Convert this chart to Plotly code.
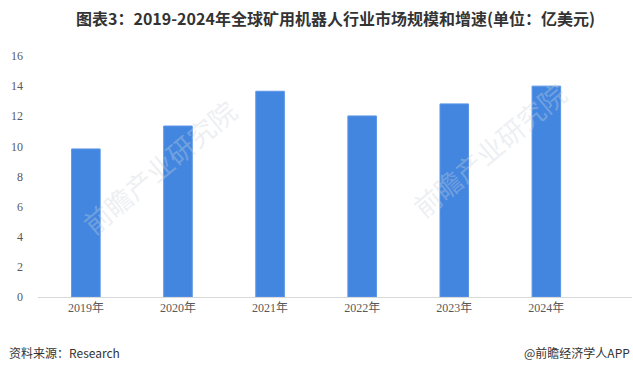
import plotly.graph_objects as go

years = ["2019年", "2020年", "2021年", "2022年", "2023年", "2024年"]
values = [9.83, 11.35, 13.66, 12.02, 12.82, 14.0]
y_ticks = [0, 2, 4, 6, 8, 10, 12, 14, 16]

title_text = "图表3：2019-2024年全球矿用机器人行业市场规模和增速(单位：亿美元)"
source_text = "资料来源：Research"
brand_text = "@前瞻经济学人APP"

fig = go.Figure()
fig.add_trace(go.Bar(
    x=years, y=values,
    marker=dict(color="#4286E0", line=dict(color="#5a95e6", width=1)),
    width=0.31,
))

W, H = 633, 373
left, right, top, bottom = 38, 1, 56, 76

fig.update_layout(
    width=W, height=H,
    margin=dict(l=left, r=right, t=top, b=bottom, pad=0),
    paper_bgcolor="white", plot_bgcolor="white",
    showlegend=False,
    font=dict(family="Liberation Serif, serif", color="#595959", size=12),
    xaxis=dict(
        type="category", range=[-0.52, 5.93],
        showline=True, linecolor="#d9d9d9", linewidth=1,
        showgrid=False, ticks="", tickfont=dict(size=12, color="#595959", family="Liberation Serif, Noto Sans CJK SC"),
        fixedrange=True,
    ),
    yaxis=dict(
        range=[0, 16], tickvals=y_ticks, showgrid=False, zeroline=False,
        showline=False, ticks="", ticklabelstandoff=14,
        tickfont=dict(size=12, color="#595959", family="Liberation Serif, serif"),
    ),
)

# watermarks (drawn first so they sit behind the text annotations)
for (px, py) in [(0.205, 0.54), (0.76, 0.61)]:
    fig.add_annotation(
        text="前瞻产业研究院", xref="paper", yref="paper", x=px, y=py,
        xanchor="center", yanchor="middle",
        showarrow=False, textangle=-40,
        font=dict(family="Noto Sans CJK SC", size=27, color="rgba(205,210,220,0.35)"),
    )

# title
fig.add_annotation(
    text="<b>" + title_text + "</b>", xref="paper", yref="paper",
    x=0.5, y=1, xanchor="center", yanchor="bottom", yshift=24,
    showarrow=False, font=dict(family="Noto Sans CJK SC", size=16, color="#333333"),
)
# footer
fig.add_annotation(
    text=source_text, xref="paper", yref="paper", x=0, xshift=-31,
    y=0, yshift=-55, xanchor="left", yanchor="middle", showarrow=False,
    font=dict(family="Noto Sans CJK SC", size=12, color="#333333"),
)
fig.add_annotation(
    text=brand_text, xref="paper", yref="paper", x=1, xshift=0,
    y=0, yshift=-55, xanchor="right", yanchor="middle", showarrow=False,
    font=dict(family="Noto Sans CJK SC", size=12, color="#333333"),
)

fig.write_html("out.html")
